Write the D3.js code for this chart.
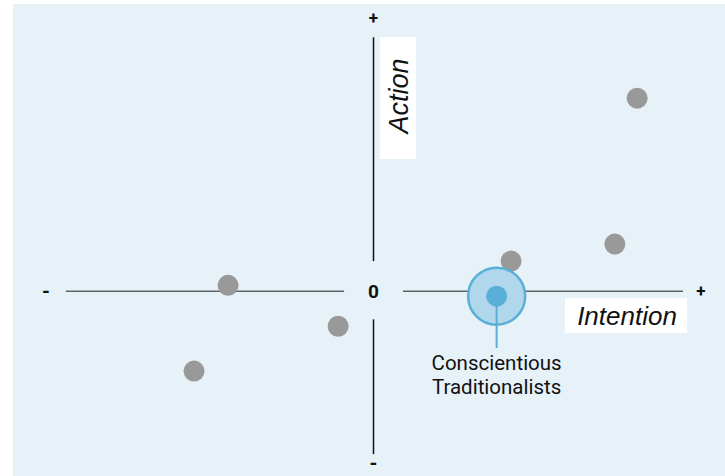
<!DOCTYPE html>
<html lang="en">
<head>
    <meta charset="UTF-8">
    <script src="https://d3js.org/d3.v7.min.js"></script>
    <title>Intention vs Action</title>
    <style>
        body { margin: 0; background: #ffffff; font-family: Roboto, sans-serif; }
        svg { display: block; }
    </style>
</head>
<body>
    <div id="chart"></div>
    <script>
        // segments' positions (intention, action), arbitrary units
        const segments = ["A", "B", "C", "D", "E", "F"];
        const intention = [8.05, 7.37, 4.2, -4.44, -1.08, -5.48];
        const action = [5.9, 1.44, 0.92, 0.18, -1.07, -2.44];

        const highlightName = ["Conscientious", "Traditionalists"];
        const highlightX = 3.76;
        const highlightY = -0.15;

        const xDomain = [-10, 10];
        const yDomain = [-5.25, 8.35];
        const endLabels = { min: "-", max: "+", zero: "0" };

        const width = 725, height = 476;

        const svg = d3.select("#chart").append("svg")
            .attr("width", width)
            .attr("height", height);

        // panel
        svg.append("rect")
            .attr("x", 13).attr("y", 4)
            .attr("width", width - 13).attr("height", height - 4)
            .attr("fill", "#e7f1f8");

        const x = d3.scaleLinear().domain(xDomain).range([46, 701]);
        const y = d3.scaleLinear().domain(yDomain).range([463, 18]);

        /*------------------- axes --------------------*/
        const gap = 0.9;
        // horizontal axis in two pieces around the zero
        [[-9.39, -gap], [gap, 9.45]].forEach(s => {
            svg.append("line")
                .attr("x1", x(s[0])).attr("x2", x(s[1]))
                .attr("y1", y(0)).attr("y2", y(0))
                .attr("stroke", "#5f6366")
                .attr("stroke-width", 1.5);
        });
        // vertical axis
        [[-4.98, -0.86], [0.92, 7.76]].forEach(s => {
            svg.append("line")
                .attr("x1", x(0)).attr("x2", x(0))
                .attr("y1", y(s[0])).attr("y2", y(s[1]))
                .attr("stroke", "#111")
                .attr("stroke-width", 1.5);
        });

        const endStyle = sel => sel
            .attr("text-anchor", "middle")
            .attr("dominant-baseline", "central")
            .attr("font-weight", "bold")
            .attr("font-size", 17)
            .attr("fill", "#111");

        svg.append("text").call(endStyle).attr("x", x(xDomain[0])).attr("y", y(0)).attr("font-size", 20).text(endLabels.min);
        svg.append("text").call(endStyle).attr("x", x(xDomain[1])).attr("y", y(0)).text(endLabels.max);
        svg.append("text").call(endStyle).attr("x", x(0)).attr("y", y(yDomain[1])).text(endLabels.max);
        svg.append("text").call(endStyle).attr("x", x(0)).attr("y", y(yDomain[0])).attr("font-size", 20).text(endLabels.min);
        svg.append("text").call(endStyle).attr("x", x(0)).attr("y", y(0)).attr("font-size", 19).text(endLabels.zero);

        // axis titles on white boxes
        svg.append("rect")
            .attr("x", 380).attr("y", 37).attr("width", 36).attr("height", 122)
            .attr("fill", "#ffffff");
        svg.append("text")
            .attr("transform", "translate(408,96) rotate(-90)")
            .attr("text-anchor", "middle")
            .attr("font-family", "'Liberation Sans', Arial, sans-serif")
            .attr("font-style", "italic")
            .attr("font-size", 27)
            .attr("fill", "#111")
            .text("Action");

        svg.append("rect")
            .attr("x", 565).attr("y", 298).attr("width", 122).attr("height", 35)
            .attr("fill", "#ffffff");
        svg.append("text")
            .attr("x", 627).attr("y", 325)
            .attr("text-anchor", "middle")
            .attr("font-family", "'Liberation Sans', Arial, sans-serif")
            .attr("font-style", "italic")
            .attr("font-size", 26)
            .attr("fill", "#111")
            .text("Intention");

        /*------------------- dots --------------------*/
        svg.selectAll("circle.seg")
            .data(segments)
            .enter()
            .append("circle")
            .attr("class", "seg")
            .attr("cx", (d, i) => x(intention[i]))
            .attr("cy", (d, i) => y(action[i]))
            .attr("r", 10.5)
            .attr("fill", "#999999");

        // highlighted segment
        const hx = x(highlightX), hy = y(highlightY);
        svg.append("circle")
            .attr("cx", hx).attr("cy", hy).attr("r", 28.5)
            .attr("fill", "#b0d7eb")
            .attr("stroke", "#5aafd8")
            .attr("stroke-width", 2.5);
        svg.append("circle")
            .attr("cx", hx).attr("cy", hy).attr("r", 10.5)
            .attr("fill", "#5aafd8");
        svg.append("line")
            .attr("x1", hx).attr("x2", hx)
            .attr("y1", hy).attr("y2", hy + 52)
            .attr("stroke", "#5aafd8")
            .attr("stroke-width", 2);

        svg.append("text")
            .attr("x", hx).attr("y", 370)
            .attr("text-anchor", "middle")
            .attr("font-size", 20.5)
            .attr("fill", "#111")
            .selectAll("tspan")
            .data(highlightName)
            .enter()
            .append("tspan")
            .attr("x", hx)
            .attr("dy", (d, i) => i === 0 ? 0 : 24)
            .text(d => d);
    </script>
</body>
</html>
